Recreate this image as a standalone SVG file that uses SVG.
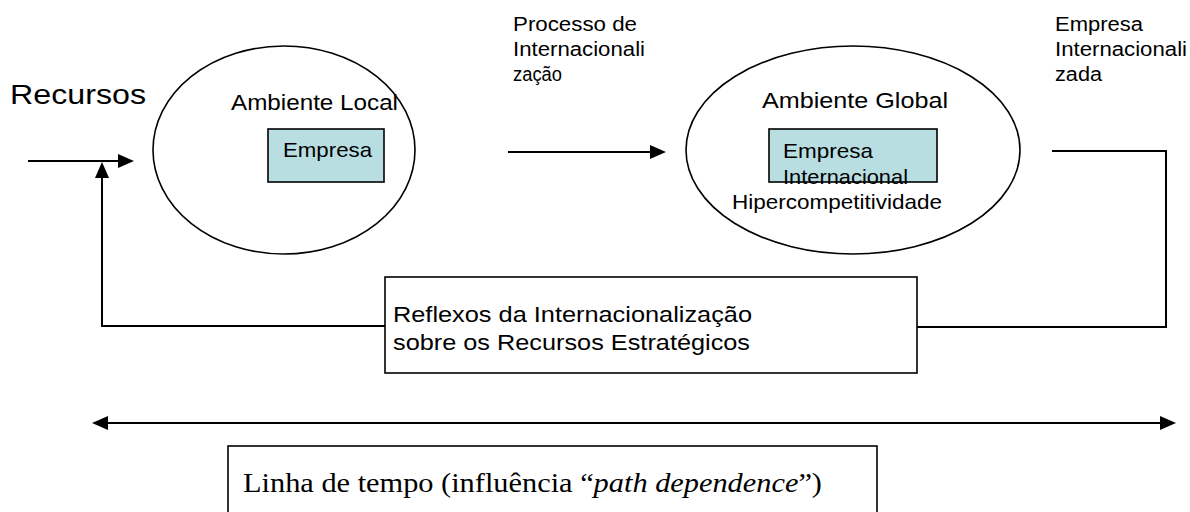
<svg xmlns="http://www.w3.org/2000/svg" width="1190" height="512" viewBox="0 0 1190 512">
<style>
.t{font-family:"Liberation Sans",Arial,sans-serif;fill:#000}
.ln{fill:none;stroke:#000;stroke-width:2}
.ell{fill:#fff;stroke:#000;stroke-width:1.6}
.box{fill:#b8dee2;stroke:#000;stroke-width:1.6}
.wbox{fill:#fff;stroke:#000;stroke-width:1.6}
.ah{fill:#000}
</style>
<rect width="1190" height="512" fill="#fff"/>
<text class="t" x="10" y="104" font-size="27" textLength="136" lengthAdjust="spacingAndGlyphs">Recursos</text>
<g id="labels">
<text class="t" font-size="20" x="513" y="31" textLength="124" lengthAdjust="spacingAndGlyphs">Processo de</text>
<text class="t" font-size="20" x="513" y="56" textLength="132" lengthAdjust="spacingAndGlyphs">Internacionali</text>
<text class="t" font-size="20" x="513" y="81" textLength="49" lengthAdjust="spacingAndGlyphs">zação</text>
<text class="t" font-size="20" x="1055" y="31" textLength="88" lengthAdjust="spacingAndGlyphs">Empresa</text>
<text class="t" font-size="20" x="1055" y="56" textLength="132" lengthAdjust="spacingAndGlyphs">Internacionali</text>
<text class="t" font-size="20" x="1055" y="81" textLength="47" lengthAdjust="spacingAndGlyphs">zada</text>
</g>
<g id="ambiente-local">
<ellipse class="ell" cx="284" cy="150" rx="131" ry="104"/>
<text class="t" font-size="22" x="231" y="110" textLength="167" lengthAdjust="spacingAndGlyphs">Ambiente Local</text>
<g id="empresa">
<rect class="box" x="268" y="129" width="116" height="53"/>
<text class="t" font-size="21" x="283" y="157" textLength="89" lengthAdjust="spacingAndGlyphs">Empresa</text>
</g>
</g>
<g id="ambiente-global">
<ellipse class="ell" cx="853" cy="150" rx="167" ry="104"/>
<text class="t" font-size="22" x="762" y="108" textLength="186" lengthAdjust="spacingAndGlyphs">Ambiente Global</text>
<g id="empresa-internacional">
<rect class="box" x="769" y="129" width="168" height="53"/>
<text class="t" font-size="21" x="783" y="158" textLength="90" lengthAdjust="spacingAndGlyphs">Empresa</text>
<text class="t" font-size="21" x="783" y="184" textLength="125" lengthAdjust="spacingAndGlyphs">Internacional</text>
</g>
<text class="t" font-size="21" x="732" y="209" textLength="210" lengthAdjust="spacingAndGlyphs">Hipercompetitividade</text>
</g>
<g id="reflexos">
<rect class="wbox" x="385" y="277" width="532" height="96"/>
<text class="t" font-size="22" x="393" y="322" textLength="359" lengthAdjust="spacingAndGlyphs">Reflexos da Internacionalização</text>
<text class="t" font-size="22" x="393" y="350" textLength="357" lengthAdjust="spacingAndGlyphs">sobre os Recursos Estratégicos</text>
</g>
<g id="linha-de-tempo">
<rect class="wbox" x="228" y="446" width="649" height="80"/>
<text x="243" y="492" font-family="'Liberation Serif','Times New Roman',serif" font-size="28" textLength="579" lengthAdjust="spacingAndGlyphs">Linha de tempo (influência “<tspan font-style="italic">path dependence</tspan>”)</text>
</g>
<g id="connectors">
<line class="ln" x1="28" y1="161" x2="119" y2="161"/>
<polygon class="ah" points="134,161 118,154 118,168"/>
<polyline class="ln" points="385,326 102,326 102,177"/>
<polygon class="ah" points="102,162 95,178 109,178"/>
<line class="ln" x1="508" y1="152" x2="651" y2="152"/>
<polygon class="ah" points="666,152 650,145 650,159"/>
<polyline class="ln" points="1052,151 1166,151 1166,327 917,327"/>
<line class="ln" x1="106" y1="423" x2="1162" y2="423"/>
<polygon class="ah" points="92,423 108,416 108,430"/>
<polygon class="ah" points="1176,423 1160,416 1160,430"/>
</g>
</svg>
